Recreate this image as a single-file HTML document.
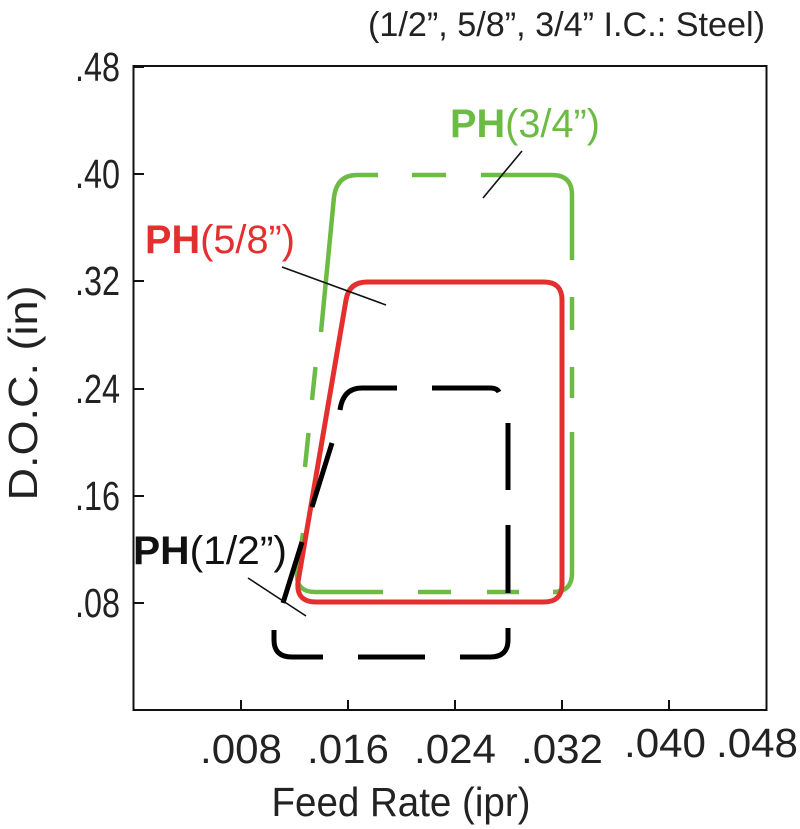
<!DOCTYPE html>
<html><head><meta charset="utf-8"><style>
html,body{margin:0;padding:0;background:#fff;}
svg{display:block;}
text{font-family:"Liberation Sans Narrow","Liberation Sans",sans-serif;}
</style></head><body>
<svg width="800" height="829" viewBox="0 0 800 829" xmlns="http://www.w3.org/2000/svg">
<g fill="#222" font-size="41">
<text x="765" y="36" font-size="34" text-anchor="end" textLength="397" lengthAdjust="spacingAndGlyphs">(1/2”, 5/8”, 3/4” I.C.: Steel)</text>
<text x="120" y="81" text-anchor="end" textLength="45" lengthAdjust="spacingAndGlyphs">.48</text>
<text x="120" y="188" text-anchor="end" textLength="45" lengthAdjust="spacingAndGlyphs">.40</text>
<text x="120" y="295" text-anchor="end" textLength="45" lengthAdjust="spacingAndGlyphs">.32</text>
<text x="120" y="403" text-anchor="end" textLength="45" lengthAdjust="spacingAndGlyphs">.24</text>
<text x="120" y="510" text-anchor="end" textLength="45" lengthAdjust="spacingAndGlyphs">.16</text>
<text x="120" y="617" text-anchor="end" textLength="45" lengthAdjust="spacingAndGlyphs">.08</text>
<text x="241" y="763" text-anchor="middle" textLength="82" lengthAdjust="spacingAndGlyphs">.008</text>
<text x="348" y="763" text-anchor="middle" textLength="82" lengthAdjust="spacingAndGlyphs">.016</text>
<text x="455" y="763" text-anchor="middle" textLength="82" lengthAdjust="spacingAndGlyphs">.024</text>
<text x="562" y="763" text-anchor="middle" textLength="82" lengthAdjust="spacingAndGlyphs">.032</text>
<text x="665" y="757" text-anchor="middle" textLength="82" lengthAdjust="spacingAndGlyphs">.040</text>
<text x="757" y="757" text-anchor="middle" textLength="82" lengthAdjust="spacingAndGlyphs">.048</text>
<text x="401" y="816" text-anchor="middle" textLength="259" lengthAdjust="spacingAndGlyphs">Feed Rate (ipr)</text>
<text transform="translate(37,393) rotate(-90)" text-anchor="middle" textLength="215" lengthAdjust="spacingAndGlyphs">D.O.C. (in)</text>
</g>
<g stroke="#111" stroke-width="2" fill="none">
<rect x="133.5" y="66" width="633" height="644"/>
<path d="M133 67h11M133 174h11M133 281h11M133 389h11M133 496h11M133 603h11"/>
<path d="M241 710v-10M348 710v-10M455 710v-10M562 710v-10M669 710v-10"/>
</g>
<g stroke="#6cbb45" stroke-width="4.5" fill="none" stroke-linecap="butt">
<path d="M321 332 L334 197 Q337 175 357 175 L378 175"/>
<path d="M412 175H446M481 175H552 Q572 175 572 195V260M572 297V330M572 367V398M572 432V573 Q572 592 553 592M519 592H487M451 592H418M383 592H315 Q297 592 297 575 L303 533"/>
<path d="M315.5 367 L312 400M308.5 433 L305 467"/>
</g>
<path d="M298 582 L346 300 Q349 282 367 282 H544 Q562 282 562 300 V584 Q562 602 544 602 H316 Q296 602 298 582 Z" stroke="#e3302f" stroke-width="5" fill="none"/>
<g stroke="#000" stroke-width="5" fill="none">
<path d="M340 410 Q343 388 362 388 H397M432 388 H490 Q497 388 499 392"/>
<path d="M508 423V490M508 525V593M508 628V640 Q508 657 490 657 H460M425 657H358M323 657H292 Q274 657 274 640 V630"/>
<path d="M332 443 L312 507M302 542 L283 603"/>
</g>
<g stroke="#111" stroke-width="1.6">
<path d="M483 198 L522 151"/>
<path d="M282 267 L386 305"/>
<path d="M248 578 L306 616"/>
</g>
<g font-size="40">
<text x="450" y="137" fill="#6cbb45" textLength="150" lengthAdjust="spacingAndGlyphs"><tspan font-weight="bold" font-family="Liberation Sans, sans-serif">PH</tspan><tspan>(3/4”)</tspan></text>
<text x="145" y="253" fill="#e3302f" textLength="150" lengthAdjust="spacingAndGlyphs"><tspan font-weight="bold" font-family="Liberation Sans, sans-serif">PH</tspan><tspan>(5/8”)</tspan></text>
<text x="133" y="564" fill="#111" textLength="154" lengthAdjust="spacingAndGlyphs"><tspan font-weight="bold" font-family="Liberation Sans, sans-serif">PH</tspan><tspan>(1/2”)</tspan></text>
</g>
</svg>
</body></html>
